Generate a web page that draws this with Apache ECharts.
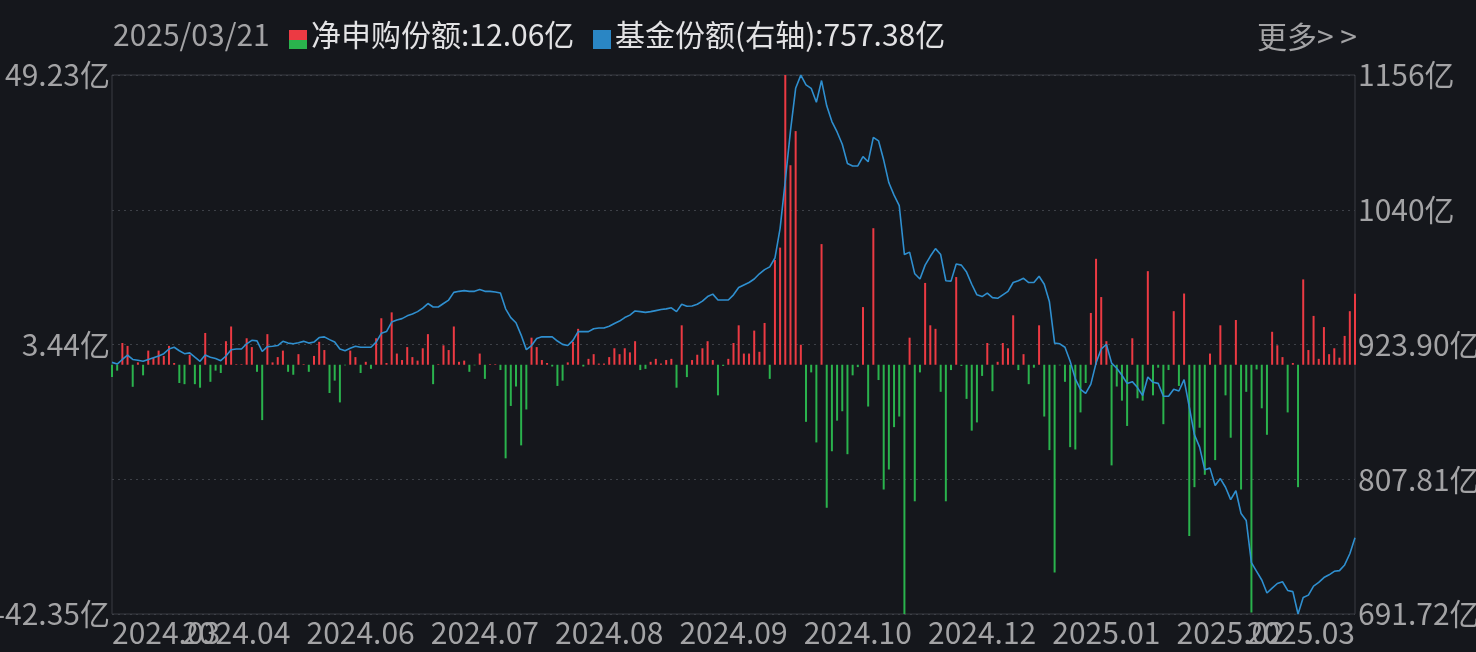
<!DOCTYPE html>
<html>
<head>
<meta charset="utf-8">
<script src="https://cdn.jsdelivr.net/npm/echarts@6/dist/echarts.min.js"></script>
<style>
html,body{margin:0;padding:0;background:#15171c;}
#chart{width:1476px;height:652px;}
</style>
</head>
<body>
<div id="chart"></div>
<script>
// ---------- data ----------
const startDate = '2024-03-22';
const endDate = '2025-03-21';
const holidays = ['2024-04-04','2024-04-05','2024-05-01','2024-05-02','2024-05-03','2024-06-10',
  '2024-09-16','2024-09-17','2024-10-01','2024-10-02','2024-10-03','2024-10-04','2024-10-07',
  '2025-01-01','2025-01-28','2025-01-29','2025-01-30','2025-01-31','2025-02-03','2025-02-04'];

const xTickLabels = ['2024.03','2024.04','2024.06','2024.07','2024.08','2024.09','2024.10','2024.12','2025.01','2025.02','2025.03'];

// 净申购份额 (亿)
const netSub = [
 -2.1,-1.0,3.7,3.2,-3.75,0.4,-1.8,2.4,1.2,2.4,
 1.5,3.2,0.3,-3.1,-3.3,1.7,-3.3,-3.9,5.4,-2.9,
 -1.0,-1.4,4.0,6.5,0.1,0.1,4.5,3.0,-1.2,-9.4,
 5.2,0.4,1.3,2.4,-1.2,-1.7,1.8,0.1,-1.2,1.5,
 3.9,2.5,-4.8,-2.7,-6.4,-0.1,2.4,1.3,-1.4,0.5,
 -0.7,4.5,7.9,0.3,8.9,1.9,0.8,3.0,1.3,0.7,
 2.8,5.2,-3.3,0.1,3.3,2.5,6.5,0.5,0.7,-1.2,
 -0.1,1.9,-2.4,0.1,0.1,-0.9,-15.9,-7.0,-3.7,-13.7,
 -7.6,4.6,3.0,0.8,0.3,-0.3,-3.6,-2.7,0.4,3.9,
 6.1,-0.3,1.0,1.8,0.2,0.2,1.3,2.8,1.8,2.8,
 2.1,4.0,-0.9,-0.7,0.5,1.0,0.2,0.8,1.0,-3.9,
 6.7,-2.1,0.8,1.7,2.8,4.0,0.8,-5.2,-0.2,1.0,
 3.7,6.7,1.9,1.9,5.8,2.2,7.1,-2.4,17.8,19.9,
 49.23,33.9,39.7,3.4,-9.7,-1.3,-13.2,20.5,-24.3,-14.7,
 -9.5,-7.9,-15.2,-1.8,-0.4,9.8,-7.1,23.2,-2.6,-21.2,
 -17.8,-10.6,-8.8,-42.35,4.6,-23.2,-1.3,13.9,6.7,6.1,
 -4.6,-23.2,-0.9,14.9,-0.2,-5.8,-11.2,-9.8,-1.9,3.7,
 -4.5,0.5,3.7,2.8,8.4,-0.9,1.8,-3.3,-0.5,6.7,
 -8.8,-14.5,-35.3,-0.1,-2.9,-14.0,-14.4,-8.1,-3.1,8.8,
 18.0,11.5,4.0,-17.1,-3.7,-6.1,-10.4,4.5,-5.7,-6.1,
 15.9,-5.2,-0.5,-10.1,-0.9,9.1,-3.6,12.1,-29.1,-20.8,
 -10.7,-18.7,1.9,-16.2,6.7,-5.2,-12.4,7.6,-21.2,-4.6,
 -42.1,-0.8,-7.4,-11.9,5.6,3.3,1.3,-8.1,0.3,-20.8,
 14.5,2.5,8.3,1.0,6.4,1.8,2.8,1.2,4.9,9.1,
 12.06
];

// 基金份额 (亿, 右轴)
const shares = [
 908.5,907.0,911.0,914.8,911.0,910.3,909.4,911.0,912.4,914.0,
 916.0,920.0,921.5,918.5,916.0,916.7,913.0,909.4,914.8,913.0,
 911.8,910.0,914.0,919.4,920.0,920.0,924.5,927.5,927.0,917.9,
 922.1,922.4,923.0,926.6,925.1,924.5,925.4,926.6,925.1,926.0,
 929.9,930.5,928.1,926.0,920.0,918.5,920.6,922.4,921.5,921.5,
 921.5,926.0,933.5,935.0,943.2,945.0,946.2,948.6,950.1,952.2,
 955.3,959.2,956.2,956.2,959.2,962.2,968.8,969.7,970.3,969.7,
 969.7,971.2,969.7,969.7,969.1,968.2,954.6,947.1,942.6,932.0,
 919.5,923.0,929.0,930.5,930.5,930.5,926.9,924.0,923.0,927.5,
 935.0,935.0,935.0,937.5,938.1,938.1,939.6,942.0,944.1,947.1,
 949.2,952.8,952.2,951.6,952.2,953.1,954.0,954.6,955.5,952.2,
 958.6,956.8,957.1,958.6,961.3,965.2,967.3,962.2,962.2,962.2,
 966.7,973.0,975.2,977.3,980.3,984.8,988.4,990.8,998.4,1024.0,
 1065.0,1108.0,1144.6,1156.0,1147.6,1144.6,1132.6,1151.3,1129.5,1116.0,
 1107.0,1096.4,1079.8,1077.7,1077.7,1085.8,1081.3,1102.4,1099.4,1082.8,
 1063.2,1052.6,1043.6,1001.4,1003.5,984.8,980.3,992.3,999.9,1006.5,
 1001.4,978.8,978.5,993.3,992.3,986.3,975.8,966.7,965.2,968.2,
 964.3,963.7,966.7,969.7,977.3,978.8,980.9,977.3,977.3,982.7,
 975.8,960.7,925.1,924.5,921.5,909.4,894.3,885.3,881.7,889.8,
 907.9,920.0,924.0,907.9,903.4,897.4,890.4,891.9,886.8,879.9,
 895.9,891.3,890.4,879.3,879.3,885.3,883.8,893.7,870.2,846.1,
 835.5,815.9,817.4,802.4,808.4,800.9,790.3,797.9,778.3,772.2,
 736.0,728.5,721.0,709.8,714.0,718.0,719.5,712.0,711.0,691.72,
 705.9,708.0,715.8,718.9,723.1,725.5,728.5,729.1,734.0,743.6,
 757.38
];

// ---------- helpers ----------
function buildTradingDays(start, end) {
  const out = [];
  const d = new Date(start + 'T00:00:00Z');
  const e = new Date(end + 'T00:00:00Z');
  while (d <= e) {
    const wd = d.getUTCDay();
    const s = d.toISOString().slice(0, 10);
    if (wd !== 0 && wd !== 6 && holidays.indexOf(s) < 0) out.push(s);
    d.setUTCDate(d.getUTCDate() + 1);
  }
  return out;
}
const dates = buildTradingDays(startDate, endDate);
const N = netSub.length;
const labelIdx = xTickLabels.map((_, k) => Math.round(k * (N - 1) / (xTickLabels.length - 1)));
const edgeIdx = [labelIdx[0], labelIdx[labelIdx.length - 1]];
const innerIdx = labelIdx.slice(1, -1);

const FONT = '"Noto Sans CJK SC", "Noto Sans", sans-serif';
const GRAY = '#a3a3a5';
const RED = '#ec3a43';
const GREEN = '#2ab34d';
const BLUE = '#2f8fcf';

const leftMin = -42.35, leftMax = 49.23;
const rightMin = 691.72, rightMax = 1156.08;

const lastDate = dates[dates.length - 1].replace(/-/g, '/');
const fmt2 = v => (Math.round(v * 100) / 100).toFixed(2);

function xAxisCfg(idxList, edges) {
  const label = {
    interval: (idx) => idxList.indexOf(idx) >= 0,
    formatter: (val, idx) => xTickLabels[labelIdx.indexOf(idx)],
    color: GRAY, fontSize: 30, fontFamily: FONT, margin: 4,
    hideOverlap: false
  };
  if (edges) {
    Object.assign(label, {showMinLabel: true, showMaxLabel: true, alignMinLabel: 'left', alignMaxLabel: 'right'});
  }
  return {
    type: 'category',
    data: dates,
    boundaryGap: false,
    gridIndex: 0,
    position: 'bottom',
    axisLine: {show: false},
    axisTick: {show: false},
    splitLine: {show: false},
    axisLabel: label
  };
}

const chart = echarts.init(document.getElementById('chart'), null, {renderer: 'canvas'});
chart.setOption({
  backgroundColor: '#15171c',
  animation: false,
  textStyle: {fontFamily: FONT},
  grid: {left: 112, right: 121, top: 75, bottom: 38, containLabel: false, outerBoundsMode: 'none',
    show: true, borderColor: '#3a3d43', borderWidth: 1, backgroundColor: 'transparent'},
  graphic: [
    {type: 'text', left: 113, top: 20, style: {text: lastDate, fill: GRAY, font: '30px ' + FONT}},
    {type: 'rect', shape: {x: 289, y: 30, width: 18, height: 10}, style: {fill: RED}},
    {type: 'rect', shape: {x: 289, y: 40, width: 18, height: 9}, style: {fill: GREEN}},
    {type: 'text', left: 311, top: 20, style: {text: '净申购份额:' + fmt2(netSub[N - 1]) + '亿', fill: '#e2e2e4', font: '30px ' + FONT}},
    {type: 'rect', shape: {x: 593, y: 30, width: 18, height: 19}, style: {fill: '#2a86c4'}},
    {type: 'text', left: 615, top: 20, style: {text: '基金份额(右轴):' + fmt2(shares[N - 1]) + '亿', fill: '#e2e2e4', font: '30px ' + FONT}},
    {type: 'text', left: 1257, top: 22, style: {text: '更多> >', fill: GRAY, font: '30px ' + FONT}}
  ],
  xAxis: [xAxisCfg(edgeIdx, true), xAxisCfg(innerIdx, false)],
  yAxis: [
    {
      type: 'value', position: 'left',
      min: leftMin, max: leftMax, interval: (leftMax - leftMin) / 2,
      axisLine: {show: false}, axisTick: {show: false}, splitLine: {show: false},
      axisLabel: {formatter: v => fmt2(v) + '亿', color: GRAY, fontSize: 30, fontFamily: FONT, margin: 2,
        showMinLabel: true, showMaxLabel: true}
    },
    {
      type: 'value', position: 'right',
      min: rightMin, max: rightMax, interval: (rightMax - rightMin) / 4,
      axisLine: {show: false}, axisTick: {show: false},
      splitLine: {show: true, lineStyle: {color: '#3d4047', type: [2, 4], width: 1}},
      axisLabel: {formatter: v => (v >= 1000 ? String(Math.round(v)) : fmt2(v)) + '亿', color: GRAY, fontSize: 30, fontFamily: FONT, margin: 3,
        showMinLabel: true, showMaxLabel: true}
    }
  ],
  series: [
    {
      name: '净申购份额', type: 'bar', xAxisIndex: 0, yAxisIndex: 0, data: netSub, barWidth: 2,
      itemStyle: {color: p => (p.value >= 0 ? RED : GREEN)}
    },
    {
      name: '基金份额(右轴)', type: 'line', xAxisIndex: 0, yAxisIndex: 1, data: shares, symbol: 'none',
      lineStyle: {color: BLUE, width: 1.6}, z: 5
    }
  ]
});
</script>
</body>
</html>
